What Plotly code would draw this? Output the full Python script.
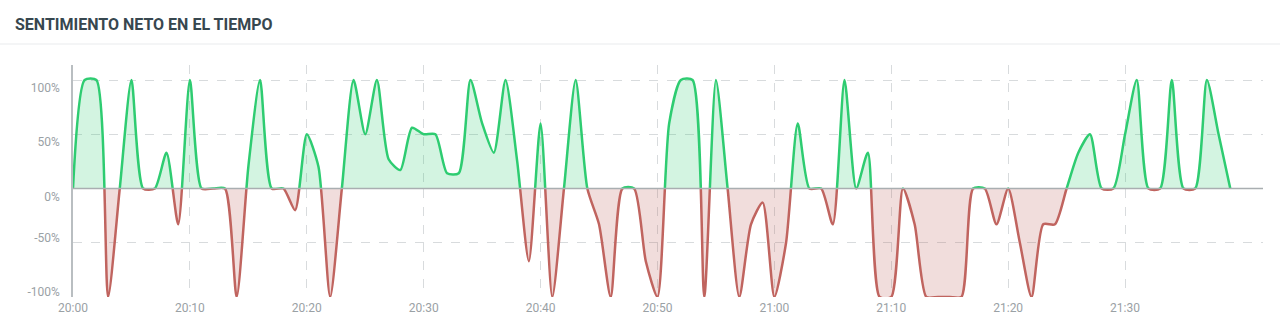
import pandas as pd
import plotly.graph_objects as go

# Net sentiment (%) sampled every minute from 20:00 to 21:39
start_time = "2024-01-01 20:00"
sentiment = [
    0, 100, 100, -100, 0, 100, 0, 0, 33, -33,
    100, 0, 0, 0, -100, 20, 100, 0, 0, -20,
    50, 20, -100, 0, 100, 50, 100, 27, 17, 56,
    50, 50, 14, 14, 100, 60, 33, 100, 25, -67,
    60, -100, 0, 100, 0, -33, -100, 0, 0, -67,
    -100, 60, 100, 100, -100, 100, 0, -100, -33, -13,
    -100, -50, 60, 0, 0, -33, 100, 0, 33, -100,
    -100, 0, -33, -100, -100, -100, -100, 0, 0, -33,
    0, -50, -100, -33, -33, 0, 33, 50, 0, 0,
    50, 100, 0, 0, 100, 0, 0, 100, 50, 0,
]
times = pd.date_range(start_time, periods=len(sentiment), freq="1min")

x_tick_labels = ["20:00", "20:10", "20:20", "20:30", "20:40",
                 "20:50", "21:00", "21:10", "21:20", "21:30"]
x_tick_vals = [pd.Timestamp("2024-01-01 " + t) for t in x_tick_labels]
upper_ticks = [0, 50, 100]
upper_labels = ["0%", "50%", "100%"]
lower_ticks = [-100, -50]
lower_labels = ["-100%", "-50%"]

title_text = "SENTIMIENTO NETO EN EL TIEMPO"

GREEN = "#2ecc71"
GREEN_FILL = "rgba(46,204,113,0.21)"
RED = "#c0645f"
RED_FILL = "rgba(192,100,95,0.22)"
GRID = "#d8dbdd"
TICK_FONT = dict(family="Roboto", size=12, color="#9aa1a5")
SMOOTH = 0.65

W, H = 1280, 333
ML, MR, MT, MB = 73, 17, 65, 36
plot_h = H - MT - MB
px_per_unit = 1.085
split = 100 * px_per_unit / plot_h
upper_max = (plot_h - 100 * px_per_unit) / px_per_unit

fig = go.Figure()
fig.add_trace(go.Scatter(
    x=times, y=sentiment, xaxis="x", yaxis="y",
    mode="lines", line=dict(color=GREEN, width=2.5, shape="spline", smoothing=SMOOTH),
    fill="tozeroy", fillcolor=GREEN_FILL, hoverinfo="skip",
))
fig.add_trace(go.Scatter(
    x=times, y=sentiment, xaxis="x", yaxis="y2",
    mode="lines", line=dict(color=RED, width=2.5, shape="spline", smoothing=SMOOTH),
    fill="tozeroy", fillcolor=RED_FILL, hoverinfo="skip",
))

x_end = pd.Timestamp(start_time) + pd.Timedelta(minutes=101.8)

fig.update_layout(
    width=W, height=H,
    margin=dict(l=ML, r=MR, t=MT, b=MB),
    paper_bgcolor="white", plot_bgcolor="white",
    showlegend=False,
    xaxis=dict(
        anchor="y2", range=[pd.Timestamp(start_time), x_end], type="date",
        tickmode="array", tickvals=x_tick_vals, ticktext=x_tick_labels,
        showgrid=True, gridcolor=GRID, griddash="dash", gridwidth=1,
        showline=False, zeroline=False, ticks="", ticklabelstandoff=2,
        tickfont=TICK_FONT,
    ),
    yaxis=dict(
        domain=[split, 1], range=[0, upper_max],
        tickvals=upper_ticks, ticktext=upper_labels,
        showgrid=True, gridcolor=GRID, griddash="dash", gridwidth=1,
        zeroline=False, showline=True, linecolor="#b9bec1", linewidth=1.5,
        ticks="", ticklabelstandoff=9, ticklabelshift=8,
        tickfont=TICK_FONT,
    ),
    yaxis2=dict(
        domain=[0, split], range=[-100, 0],
        tickvals=lower_ticks, ticktext=lower_labels,
        showgrid=True, gridcolor=GRID, griddash="dash", gridwidth=1,
        zeroline=False, showline=True, linecolor="#b9bec1", linewidth=1.5,
        ticks="", ticklabelstandoff=9, ticklabelshift=-5,
        tickfont=TICK_FONT,
    ),
)

# zero baseline
fig.add_shape(type="line", xref="paper", yref="paper", x0=0, x1=1, y0=split, y1=split,
              line=dict(color="#a9aeb1", width=1.3), layer="above")
# header separator
sep_y = (H - MB - 44) / plot_h
fig.add_shape(type="line", xref="paper", yref="paper",
              x0=-ML / (W - ML - MR), x1=(W - ML) / (W - ML - MR), y0=sep_y, y1=sep_y,
              line=dict(color="#e9ecee", width=1.2))

fig.add_annotation(
    text=f"<b>{title_text}</b>", xref="paper", yref="paper",
    x=(13 - ML) / (W - ML - MR), y=(H - MB - 24) / plot_h,
    xanchor="left", yanchor="middle", showarrow=False,
    font=dict(family="Roboto", size=16, color="#37474f"),
)

fig.write_html("out.html")
